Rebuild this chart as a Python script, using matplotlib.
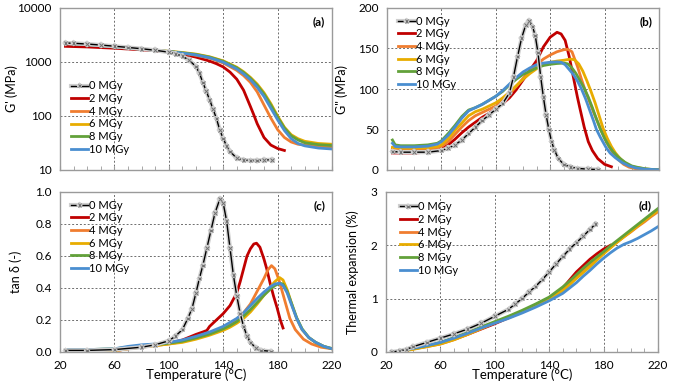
import matplotlib
matplotlib.use("Agg")
import matplotlib.pyplot as plt
import matplotlib.patheffects as pe
from matplotlib.ticker import MultipleLocator, NullLocator, FixedLocator, FixedFormatter

plt.rcParams['font.family'] = ['Lato', 'DejaVu Sans']

doses = ['0 MGy', '2 MGy', '4 MGy', '6 MGy', '8 MGy', '10 MGy']
colors = ['black', '#C00000', '#F07D30', '#E8AC00', '#62A13A', '#4A8ED0']

# ---- (a) storage modulus G' (MPa) ----
a_T0 = [24, 30, 40, 50, 60, 70, 80, 90, 100, 105, 110, 115, 120, 122.5, 125, 127.5, 130, 132.5, 135,
        137.5, 140, 142.5, 145, 150, 155, 160, 165, 170, 176]
a_G0 = [2250, 2220, 2150, 2060, 1960, 1860, 1760, 1650, 1520, 1420, 1280, 1080, 820, 620, 420, 290, 200,
        135, 90, 55, 38, 28, 22, 16.5, 15.2, 15, 15, 15.3, 15.5]
a_T2 = [24, 40, 60, 80, 100, 110, 120, 130, 135, 140, 145, 150, 155, 160, 162.5, 165, 170, 175, 180, 185]
a_G2 = [1950, 1900, 1800, 1680, 1550, 1400, 1230, 1040, 930, 810, 650, 480, 300, 150, 105, 72, 40, 29, 25, 23]
a_T = [24, 40, 60, 80, 100, 110, 120, 130, 140, 150, 155, 160, 165, 170, 175, 180, 185, 190, 195, 200, 210, 220]
a_G4 = [2200, 2100, 1900, 1720, 1560, 1460, 1330, 1180, 960, 700, 560, 420, 280, 160, 92, 56, 40, 33, 30,
        29, 27.5, 27]
a_G6 = [2250, 2130, 1920, 1740, 1580, 1500, 1400, 1250, 1050, 800, 660, 520, 390, 270, 170, 100, 62, 45, 38,
        34, 31, 30]
a_G8 = [2200, 2100, 1900, 1730, 1570, 1480, 1380, 1230, 1030, 780, 640, 500, 370, 255, 160, 95, 60, 43, 36,
        32, 29.5, 28.5]
a_G10 = [2200, 2100, 1900, 1720, 1560, 1460, 1350, 1200, 990, 740, 600, 470, 340, 230, 140, 85, 54, 38, 31,
         28, 25.5, 24.5]

# ---- (b) loss modulus G'' (MPa) ----
b_T0 = [24, 30, 40, 50, 60, 65, 70, 75, 80, 85, 90, 95, 100, 105, 110, 113, 116, 119, 122, 124.5, 127, 129,
        131, 133, 135, 137, 139, 141, 143, 146, 150, 155, 160, 168, 175]
b_G0 = [23, 22, 22, 22, 24, 27, 31, 37, 45, 53, 61, 68, 75, 82, 95, 115, 140, 163, 179, 184, 177, 166, 145,
        115, 90, 68, 50, 35, 25, 14, 7, 3.5, 2, 1, 0.5]
b_T2 = [24, 30, 40, 50, 55, 60, 65, 70, 75, 80, 85, 90, 95, 100, 105, 110, 115, 120, 125, 130, 135, 140, 145,
        148, 151, 154, 157, 160, 162, 165, 168, 171, 175, 180, 185]
b_G2 = [21, 21, 21, 22, 23.5, 26, 31, 38, 46, 53, 59, 65, 70, 76, 82, 89, 99, 111, 123, 135, 152, 164, 170,
        168, 160, 140, 115, 90, 75, 53, 35, 24, 14, 7, 4]
b_T4 = [24, 30, 40, 50, 57, 60, 65, 70, 75, 80, 85, 90, 95, 100, 105, 110, 115, 120, 125, 130, 135, 140, 145,
        150, 153, 156, 160, 163, 166, 169, 172, 175, 178, 181, 184, 187, 190, 194, 198, 203, 210, 220]
b_G4 = [27, 26, 26, 26, 27, 29, 35, 44, 53, 61, 67, 71, 75, 79, 86, 94, 103, 113, 122, 130, 137, 142, 146,
        148.5, 149, 146, 128, 112, 97, 84, 71, 59, 47, 36, 27, 19, 13, 7, 3.5, 1.5, 0.6, 0.3]
b_T6 = [24, 30, 40, 50, 57, 60, 65, 70, 75, 80, 85, 90, 95, 100, 105, 110, 115, 120, 125, 130, 135, 140, 145,
        150, 155, 158, 161, 164, 167, 170, 173, 176, 179, 182, 185, 188, 192, 196, 200, 205, 210, 215, 220]
b_G6 = [28, 27, 27, 27.5, 29, 31, 39, 49, 58, 67, 72, 75, 79, 83, 89, 96, 104, 112, 119, 125, 130, 133,
        134.5, 135.5, 137, 136, 131, 122, 110, 97, 83, 67, 51, 39, 29, 21, 13, 7.5, 4, 2.8, 1.3, 0.6, 0.3]
b_T8 = [24, 26, 30, 40, 50, 57, 60, 65, 70, 75, 80, 85, 90, 95, 100, 105, 110, 115, 120, 125, 130, 135, 140,
        145, 150, 153, 156, 159, 162, 165, 168, 171, 174, 177, 180, 183, 186, 190, 195, 200, 205, 210, 215, 220]
b_G8 = [37, 31, 30, 30, 31, 33, 36, 45, 55, 66, 74, 77, 81, 86, 91, 97, 105, 112, 118, 122, 126, 129, 130.5,
        131.5, 132, 131, 126, 119, 110, 101, 90, 77, 63, 50, 39, 30, 23, 16, 9.5, 5, 3, 1.5, 0.7, 0.3]
b_T10 = [24, 26, 30, 40, 50, 57, 60, 65, 70, 75, 80, 85, 90, 95, 100, 105, 110, 115, 120, 125, 130, 135, 140,
         145, 148, 151, 154, 157, 160, 163, 166, 169, 172, 174, 177, 181, 184, 188, 193, 198, 203, 210, 220]
b_G10 = [33, 29, 28.5, 28.5, 29.5, 32, 35, 43, 53, 64, 73, 77, 81, 86, 91, 98, 106, 114, 121, 126, 130, 132,
         133, 133.5, 133, 130, 124, 118, 110, 100, 88, 74, 60, 50, 40, 28, 21, 15, 9, 5, 2.5, 1, 0.3]

# ---- (c) tan delta ----
c_T0 = [24, 40, 60, 80, 90, 100, 105, 110, 114, 117, 120, 122.5, 125, 128, 131, 134, 137.5, 140, 142.5, 145,
        147.5, 150, 152.5, 155, 157.5, 160, 164, 168, 175]
c_D0 = [0.01, 0.01, 0.015, 0.03, 0.045, 0.07, 0.1, 0.14, 0.21, 0.27, 0.37, 0.46, 0.54, 0.65, 0.76, 0.87,
        0.955, 0.93, 0.82, 0.65, 0.48, 0.35, 0.24, 0.16, 0.1, 0.06, 0.025, 0.01, 0.004]
c_T2 = [24, 40, 60, 70, 80, 90, 100, 110, 120, 125, 128, 130, 135, 140, 145, 150, 152.5, 155, 157.5, 160,
        162.5, 164.5, 167, 170, 172, 174.5, 177, 179.5, 182, 184]
c_D2 = [0.005, 0.005, 0.008, 0.02, 0.035, 0.045, 0.055, 0.075, 0.11, 0.125, 0.135, 0.16, 0.2, 0.24, 0.29,
        0.37, 0.44, 0.52, 0.6, 0.645, 0.675, 0.68, 0.655, 0.58, 0.52, 0.43, 0.35, 0.28, 0.2, 0.15]
c_T4 = [24, 60, 70, 80, 90, 100, 110, 120, 130, 140, 145, 150, 155, 160, 165, 170, 173, 175.5, 178, 181, 184,
        187, 189, 193, 199, 205, 212, 220]
c_D4 = [0.005, 0.008, 0.02, 0.03, 0.04, 0.05, 0.065, 0.09, 0.115, 0.15, 0.175, 0.205, 0.245, 0.3, 0.38,
        0.46, 0.515, 0.54, 0.52, 0.45, 0.36, 0.27, 0.21, 0.14, 0.08, 0.05, 0.03, 0.02]
c_T = [24, 40, 60, 70, 80, 90, 100, 110, 120, 130, 140, 145, 150, 155, 160, 165, 170, 175, 178, 181.5, 184,
       187, 190, 194, 198, 203, 208, 214, 220]
c_D6 = [0.005, 0.005, 0.008, 0.02, 0.03, 0.04, 0.05, 0.06, 0.08, 0.105, 0.135, 0.155, 0.18, 0.21, 0.25,
        0.3, 0.355, 0.41, 0.44, 0.465, 0.45, 0.39, 0.31, 0.21, 0.14, 0.09, 0.06, 0.035, 0.02]
c_D8 = [0.015, 0.015, 0.02, 0.03, 0.04, 0.045, 0.055, 0.067, 0.088, 0.112, 0.145, 0.165, 0.19, 0.225,
        0.265, 0.31, 0.355, 0.395, 0.415, 0.43, 0.425, 0.38, 0.31, 0.215, 0.145, 0.09, 0.06, 0.035, 0.022]
c_D10 = [0.015, 0.015, 0.02, 0.035, 0.045, 0.05, 0.06, 0.075, 0.098, 0.125, 0.16, 0.185, 0.21, 0.245,
         0.29, 0.335, 0.375, 0.41, 0.425, 0.43, 0.415, 0.37, 0.3, 0.21, 0.14, 0.09, 0.06, 0.035, 0.02]

# ---- (d) thermal expansion (%) ----
d_T0 = [24, 30, 35, 40, 50, 60, 70, 80, 90, 100, 110, 115, 120, 125, 130, 135, 140, 145, 150, 155, 160, 165,
        170, 174]
d_E0 = [0, 0.02, 0.05, 0.1, 0.18, 0.26, 0.34, 0.43, 0.54, 0.67, 0.8, 0.9, 1.0, 1.12, 1.23, 1.36, 1.5, 1.65,
        1.79, 1.93, 2.05, 2.17, 2.3, 2.4]
d_T2 = [24, 30, 40, 50, 60, 70, 80, 90, 100, 110, 120, 130, 140, 150, 155, 160, 165, 170, 175, 180, 185]
d_E2 = [0, 0.01, 0.06, 0.11, 0.16, 0.24, 0.33, 0.43, 0.53, 0.64, 0.75, 0.87, 1.0, 1.2, 1.35, 1.5, 1.62,
        1.74, 1.84, 1.93, 2.0]
d_T = [24, 30, 40, 50, 60, 70, 80, 90, 100, 110, 120, 130, 140, 150, 155, 160, 165, 170, 175, 180, 185, 190,
       195, 200, 205, 210, 215, 220]
d_E4 = [0, 0.01, 0.06, 0.1, 0.15, 0.23, 0.33, 0.44, 0.55, 0.65, 0.76, 0.88, 1.01, 1.17, 1.29, 1.42, 1.53,
        1.64, 1.75, 1.86, 1.96, 2.06, 2.16, 2.25, 2.35, 2.44, 2.54, 2.63]
d_E6 = [0, 0.01, 0.05, 0.1, 0.15, 0.23, 0.33, 0.44, 0.55, 0.65, 0.76, 0.88, 1.0, 1.15, 1.26, 1.38, 1.49,
        1.6, 1.72, 1.84, 1.95, 2.06, 2.16, 2.26, 2.36, 2.46, 2.56, 2.65]
d_E8 = [0, 0.02, 0.07, 0.12, 0.18, 0.27, 0.37, 0.47, 0.57, 0.67, 0.78, 0.9, 1.03, 1.22, 1.33, 1.45, 1.57,
        1.68, 1.78, 1.88, 1.99, 2.09, 2.19, 2.29, 2.39, 2.49, 2.59, 2.69]
d_E10 = [0, 0.02, 0.07, 0.12, 0.18, 0.26, 0.35, 0.45, 0.54, 0.63, 0.73, 0.84, 0.96, 1.1, 1.2, 1.3, 1.42,
         1.53, 1.65, 1.76, 1.86, 1.95, 2.02, 2.07, 2.13, 2.2, 2.27, 2.35]

panels = {
    'a': [(a_T0, a_G0), (a_T2, a_G2), (a_T, a_G4), (a_T, a_G6), (a_T, a_G8), (a_T, a_G10)],
    'b': [(b_T0, b_G0), (b_T2, b_G2), (b_T4, b_G4), (b_T6, b_G6), (b_T8, b_G8), (b_T10, b_G10)],
    'c': [(c_T0, c_D0), (c_T2, c_D2), (c_T4, c_D4), (c_T, c_D6), (c_T, c_D8), (c_T, c_D10)],
    'd': [(d_T0, d_E0), (d_T2, d_E2), (d_T, d_E4), (d_T, d_E6), (d_T, d_E8), (d_T, d_E10)],
}

fig = plt.figure(figsize=(6.95, 3.9), dpi=100)
W, H = 695, 390


def px_axes(left, top, right, bottom):
    return fig.add_axes([left / W, 1 - bottom / H, (right - left) / W, (bottom - top) / H])


axes = {
    'a': px_axes(60, 8, 332, 170),
    'b': px_axes(387, 8, 659, 170),
    'c': px_axes(60, 192, 332, 352),
    'd': px_axes(386, 192, 658, 352),
}

frame = '#9a9a9a'
for key, ax in axes.items():
    for i, (T, v) in enumerate(panels[key]):
        if i == 0:
            # black line with grey cross markers (dense in the original)
            ax.plot(T, v, color='black', lw=1.0, marker='x', ms=2.6, mew=0.7, mec='#707070',
                    label=doses[i], zorder=4,
                    path_effects=[pe.Stroke(linewidth=3.0, foreground='#cfcfcf'), pe.Normal()])
        else:
            ax.plot(T, v, color=colors[i], lw=2.0, label=doses[i], zorder=2 + i * 0.1)

    ax.set_xlim(20, 220)
    ax.xaxis.set_major_locator(FixedLocator([20, 60, 100, 140, 180, 220]))
    ax.xaxis.set_minor_locator(MultipleLocator(10))
    ax.tick_params(axis='x', which='both', direction='in', length=3, color=frame, labelsize=8.5, pad=6)
    ax.tick_params(axis='y', which='both', length=0, labelsize=8.5, pad=6)
    for s in ax.spines.values():
        s.set_color(frame)
        s.set_linewidth(1.0)
    ax.grid(True, which='major', color='#6e6e6e', linestyle=(0, (2, 2)), linewidth=0.7)
    ax.set_axisbelow(True)
    ax.text(0.975, 0.95, '(%s)' % key, transform=ax.transAxes, ha='right', va='top',
            fontsize=8.5, fontweight='bold')

ax = axes['a']
ax.set_yscale('log')
ax.set_ylim(10, 10000)
ax.yaxis.set_major_locator(FixedLocator([10, 100, 1000, 10000]))
ax.yaxis.set_major_formatter(FixedFormatter(['10', '100', '1000', '10000']))
ax.yaxis.set_minor_locator(NullLocator())
ax.set_ylabel("G' (MPa)", fontsize=9)
ax.yaxis.set_label_coords(-0.155, 0.5)
ax.tick_params(axis='x', labelbottom=False)
ax.legend(loc='upper left', bbox_to_anchor=(0.025, 0.58), frameon=False, fontsize=8,
          handlelength=1.5, handletextpad=0.1, labelspacing=0.15, borderaxespad=0)

ax = axes['b']
ax.set_ylim(0, 200)
ax.set_yticks([0, 50, 100, 150, 200])
ax.set_ylabel('G" (MPa)', fontsize=9)
ax.yaxis.set_label_coords(-0.145, 0.5)
ax.tick_params(axis='x', labelbottom=False)
ax.legend(loc='upper left', bbox_to_anchor=(0.025, 0.98), frameon=False, fontsize=8,
          handlelength=1.5, handletextpad=0.1, labelspacing=0.15, borderaxespad=0)

ax = axes['c']
ax.set_ylim(0, 1.0)
ax.set_yticks([0, 0.2, 0.4, 0.6, 0.8, 1.0])
ax.set_yticklabels(['0.0', '0.2', '0.4', '0.6', '0.8', '1.0'])
ax.set_ylabel('tan δ (-)', fontsize=9)
ax.yaxis.set_label_coords(-0.14, 0.5)
ax.set_xlabel('Temperature (°C)', fontsize=9.5, labelpad=-2)
ax.legend(loc='upper left', bbox_to_anchor=(0.025, 0.98), frameon=False, fontsize=8,
          handlelength=1.5, handletextpad=0.1, labelspacing=0.15, borderaxespad=0)

ax = axes['d']
ax.set_ylim(0, 3)
ax.set_yticks([0, 1, 2, 3])
ax.set_ylabel('Thermal expansion (%)', fontsize=9)
ax.yaxis.set_label_coords(-0.1, 0.5)
ax.set_xlabel('Temperature (°C)', fontsize=9.5, labelpad=-2)
ax.legend(loc='upper left', bbox_to_anchor=(0.035, 0.97), frameon=False, fontsize=8,
          handlelength=1.5, handletextpad=0.1, labelspacing=0.15, borderaxespad=0)

fig.savefig('out.png', dpi=100)
